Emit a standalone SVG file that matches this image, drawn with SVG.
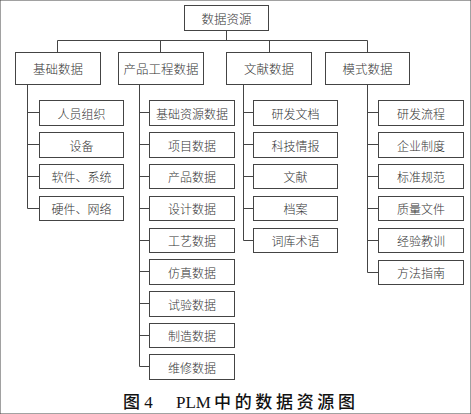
<svg xmlns="http://www.w3.org/2000/svg" width="471" height="414" viewBox="0 0 471 414">
<style>
rect{fill:#fff;stroke:#444;stroke-width:1}
.c path{fill:none;stroke:#444;stroke-width:1}
text{font-family:"Noto Sans CJK SC","Liberation Serif",serif;font-size:12px;font-weight:300;fill:#333;text-anchor:middle;dominant-baseline:central}
.h{font-size:12.5px}
.cap{font-family:"Liberation Serif","Noto Sans CJK SC",serif;font-size:17px;fill:#111;text-anchor:start;dominant-baseline:alphabetic;font-weight:500}
</style>
<rect width="471" height="414" fill="#fff" stroke="none"/>
<g class="c" id="connectors">
<path d="M226.5 30 V40.5 M57.5 40.5 H367.5 M57.5 40.5 V52 M160.5 40.5 V52 M269.5 40.5 V52 M367.5 40.5 V52"/>
<path d="M27.5 84 V208.5 M27.5 112.5 H39 M27.5 144.5 H39 M27.5 176.5 H39 M27.5 208.5 H39"/>
<path d="M139.5 84 V366.5 M139.5 112.5 H149 M139.5 144.5 H149 M139.5 176.5 H149 M139.5 208.5 H149 M139.5 240.5 H149 M139.5 271.5 H149 M139.5 303.5 H149 M139.5 335.5 H149 M139.5 366.5 H149"/>
<path d="M243.5 84 V240.5 M243.5 112.5 H253 M243.5 144.5 H253 M243.5 176.5 H253 M243.5 208.5 H253 M243.5 240.5 H253"/>
<path d="M367.5 84 V272.5 M367.5 112.5 H378 M367.5 144.5 H378 M367.5 176.5 H378 M367.5 208.5 H378 M367.5 240.5 H378 M367.5 272.5 H378"/>
</g>
<g id="root"><rect x="184.5" y="5.5" width="84" height="25"/><text class="h" x="226.5" y="18">数据资源</text></g>
<g id="jichu"><rect x="15.5" y="52.5" width="85" height="32"/><text class="h" x="58" y="68.5">基础数据</text></g>
<g id="chanpin"><rect x="118.5" y="52.5" width="85" height="32"/><text class="h" x="161" y="68.5">产品工程数据</text></g>
<g id="wenxian"><rect x="226.5" y="52.5" width="85" height="32"/><text class="h" x="269" y="68.5">文献数据</text></g>
<g id="moshi"><rect x="325.5" y="52.5" width="84" height="32"/><text class="h" x="367.5" y="68.5">模式数据</text></g>

<g id="j1"><rect x="39.5" y="100.5" width="84" height="25"/><text x="81.5" y="113">人员组织</text></g>
<g id="j2"><rect x="39.5" y="132.5" width="84" height="25"/><text x="81.5" y="145">设备</text></g>
<g id="j3"><rect x="39.5" y="164.5" width="84" height="24"/><text x="81.5" y="176.5">软件、系统</text></g>
<g id="j4"><rect x="39.5" y="196.5" width="84" height="24"/><text x="81.5" y="208.5">硬件、网络</text></g>

<g id="p1"><rect x="149.5" y="100.5" width="85" height="25"/><text x="192" y="113">基础资源数据</text></g>
<g id="p2"><rect x="149.5" y="132.5" width="85" height="25"/><text x="192" y="145">项目数据</text></g>
<g id="p3"><rect x="149.5" y="164.5" width="85" height="24"/><text x="192" y="176.5">产品数据</text></g>
<g id="p4"><rect x="149.5" y="196.5" width="85" height="24"/><text x="192" y="208.5">设计数据</text></g>
<g id="p5"><rect x="149.5" y="228.5" width="85" height="24"/><text x="192" y="240.5">工艺数据</text></g>
<g id="p6"><rect x="149.5" y="259.5" width="85" height="25"/><text x="192" y="272">仿真数据</text></g>
<g id="p7"><rect x="149.5" y="291.5" width="85" height="25"/><text x="192" y="304">试验数据</text></g>
<g id="p8"><rect x="149.5" y="323.5" width="85" height="24"/><text x="192" y="335.5">制造数据</text></g>
<g id="p9"><rect x="149.5" y="354.5" width="85" height="25"/><text x="192" y="367">维修数据</text></g>

<g id="w1"><rect x="253.5" y="100.5" width="84" height="25"/><text x="295.5" y="113">研发文档</text></g>
<g id="w2"><rect x="253.5" y="132.5" width="84" height="25"/><text x="295.5" y="145">科技情报</text></g>
<g id="w3"><rect x="253.5" y="164.5" width="84" height="24"/><text x="295.5" y="176.5">文献</text></g>
<g id="w4"><rect x="253.5" y="196.5" width="84" height="24"/><text x="295.5" y="208.5">档案</text></g>
<g id="w5"><rect x="253.5" y="228.5" width="84" height="24"/><text x="295.5" y="240.5">词库术语</text></g>

<g id="m1"><rect x="378.5" y="100.5" width="85" height="25"/><text x="421" y="113">研发流程</text></g>
<g id="m2"><rect x="378.5" y="132.5" width="85" height="25"/><text x="421" y="145">企业制度</text></g>
<g id="m3"><rect x="378.5" y="164.5" width="85" height="24"/><text x="421" y="176.5">标准规范</text></g>
<g id="m4"><rect x="378.5" y="196.5" width="85" height="24"/><text x="421" y="208.5">质量文件</text></g>
<g id="m5"><rect x="378.5" y="228.5" width="85" height="24"/><text x="421" y="240.5">经验教训</text></g>
<g id="m6"><rect x="378.5" y="260.5" width="85" height="24"/><text x="421" y="272.5">方法指南</text></g>

<text class="cap" y="408"><tspan x="123">图 4</tspan><tspan x="176">PLM</tspan><tspan x="214" textLength="141" lengthAdjust="spacing">中的数据资源图</tspan></text>
</svg>
